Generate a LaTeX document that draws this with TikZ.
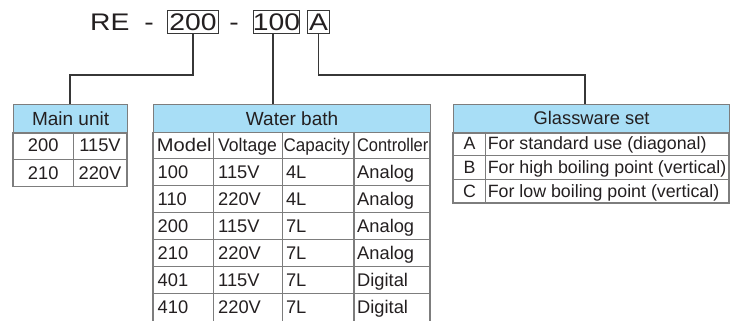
\documentclass[tikz,border=0pt]{standalone}
\usepackage{fontspec}
\setmainfont{Liberation Sans}
\newfontfamily\titlefont[FakeStretch=1.18]{Liberation Sans}
\definecolor{hdrblue}{RGB}{168,222,246}
\definecolor{bordergray}{RGB}{125,125,125}
\definecolor{linegray}{RGB}{55,55,55}
\definecolor{textgray}{RGB}{35,31,32}
\newcommand{\ttl}{\titlefont\fontsize{24}{26}\selectfont}
\newcommand{\hdf}{\fontsize{19}{21}\selectfont}
\newcommand{\datf}{\fontsize{18.3}{20}\selectfont}
\tikzset{
  hdr/.style={draw=bordergray, fill=hdrblue, line width=1.2pt, inner sep=0pt, text=textgray, anchor=north west, font=\hdf},
  grid/.style={draw=bordergray, line width=1.2pt},
  conn/.style={draw=linegray, line width=1.4pt},
  tbox/.style={draw=linegray, line width=1.1pt, inner sep=0pt, minimum height=23pt, anchor=north west, text=textgray, font=\ttl},
  txt/.style={inner sep=0pt, text=textgray, font=\datf},
}
\begin{document}
\begin{tikzpicture}[x=1pt,y=-1pt]
\useasboundingbox (0,0) rectangle (730,321);

% ---- title code ----
\node[txt, anchor=base west, font=\ttl] (re) at (90,31) {RE};
\node[txt, anchor=base, font=\ttl] (d1) at (149,31) {-};
\node[tbox, minimum width=51pt] (b200) at (167,10) {200};
\node[txt, anchor=base, font=\ttl] (d2) at (234,31) {-};
\node[tbox, minimum width=46pt] (b100) at (253,10) {\makebox[44pt]{100}};
\node[tbox, minimum width=22pt] (bA) at (307,10) {\makebox[20pt]{A}};

% ---- Main unit table ----
\node[hdr, minimum width=114pt, minimum height=27.7pt] (mainh) at (13,104) {Main unit};
\draw[grid] (mainh.south west) rectangle (127,186.7);
\draw[grid] (13,159.5) -- (127,159.5);
\draw[grid] (73.3,131.7) -- (73.3,186.7);
\node[txt, anchor=base] (m1a) at (43.2,151.8) {200};
\node[txt, anchor=base] (m1b) at (100,151.8) {115V};
\node[txt, anchor=base] (m2a) at (43.2,179.2) {210};
\node[txt, anchor=base] (m2b) at (100,179.2) {220V};

% ---- Water bath table ----
\node[hdr, minimum width=277pt, minimum height=27.7pt] (wbh) at (153,104) {Water bath};
\foreach \yy in {158.7,185.7,212.7,239.7,266.7,293.7}
  \draw[grid] (153,\yy) -- (430,\yy);
\foreach \xx in {153,213.3,282.3,354,430}
  \draw[grid] (\xx,131.7) -- (\xx,321);
\node[txt, anchor=base west] (wbm) at (156.7,151.2) {\scalebox{1.1}[1]{Model}};
\node[txt, anchor=base west] (wbv) at (218,151.2) {\scalebox{0.96}[1]{Voltage}};
\node[txt, anchor=base west] (wbc) at (283.5,151.2) {\scalebox{0.93}[1]{Capacity}};
\node[txt, anchor=base west] (wbk) at (356.8,151.2) {\scalebox{0.9}[1]{Controller}};
\foreach \k/\a/\b/\c/\d in {1/100/115V/4L/Analog, 2/110/220V/4L/Analog, 3/200/115V/7L/Analog, 4/210/220V/7L/Analog, 5/401/115V/7L/Digital, 6/410/220V/7L/Digital}{
  \node[txt, anchor=base west] (wb\k a) at (157.5,{151.2+27*\k}) {\a};
  \node[txt, anchor=base west] (wb\k b) at (218,{151.2+27*\k}) {\b};
  \node[txt, anchor=base west] (wb\k c) at (285.8,{151.2+27*\k}) {\c};
  \node[txt, anchor=base west] (wb\k d) at (357,{151.2+27*\k}) {\d};
}

% ---- Glassware set table ----
\node[hdr, minimum width=276pt, minimum height=27.7pt, font=\fontsize{18.3}{20}\selectfont] (gsh) at (453,104) {Glassware set};
\draw[grid] (gsh.south west) rectangle (729,203);
\draw[grid] (453,155.4) -- (729,155.4);
\draw[grid] (453,179.1) -- (729,179.1);
\draw[grid] (485.7,131.7) -- (485.7,203);
\foreach \k/\l/\t in {0/A/For standard use (diagonal), 1/B/For high boiling point (vertical), 2/C/For low boiling point (vertical)}{
  \node[txt, anchor=base, font=\fontsize{17.8}{20}\selectfont] (gs\k l) at (469.5,{149.8+23.7*\k}) {\l};
  \node[txt, anchor=base west, font=\fontsize{17.8}{20}\selectfont] (gs\k t) at (487.6,{149.8+23.7*\k}) {\t};
}

% ---- connectors ----
\coordinate (k1) at (70,75);
\coordinate (k2) at (273,75);
\coordinate (k3) at (318,75);
\coordinate (k4) at (585,75);
\draw[conn] (b200.south) |- (k1) -- (k1 |- mainh.north);
\draw[conn] (k2 |- b100.south) -- (k2 |- wbh.north);
\draw[conn] (bA.south) |- (k4) -- (k4 |- gsh.north);
\end{tikzpicture}
\end{document}
